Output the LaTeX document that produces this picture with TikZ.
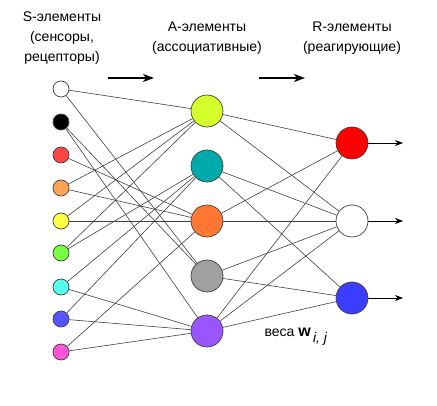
\documentclass[tikz,border=0pt]{standalone}
\usepackage{fontspec}
\setmainfont{Liberation Sans}
\usepackage{tikz}
\usetikzlibrary{arrows.meta}

\definecolor{sred}{HTML}{FF4444}
\definecolor{sorange}{HTML}{FFA255}
\definecolor{syellow}{HTML}{FFFF44}
\definecolor{sgreen}{HTML}{77FF44}
\definecolor{scyan}{HTML}{55FFEE}
\definecolor{sblue}{HTML}{5555FF}
\definecolor{smagenta}{HTML}{FF55DD}
\definecolor{alime}{HTML}{D4FF2A}
\definecolor{ateal}{HTML}{00AAAA}
\definecolor{aorange}{HTML}{FF7733}
\definecolor{agray}{HTML}{A0A0A0}
\definecolor{apurple}{HTML}{9955FF}
\definecolor{rred}{HTML}{FF0000}
\definecolor{rblue}{HTML}{3C3CFF}
\definecolor{edgegray}{HTML}{404040}

\begin{document}
\begin{tikzpicture}[x=1pt,y=-1pt,
	snode/.style={shape=circle,draw=edgegray,line width=0.7pt,inner sep=0pt,minimum size=16pt},
	bignode/.style={shape=circle,draw=edgegray,line width=0.7pt,inner sep=0pt,minimum size=32pt},
	link/.style={draw=edgegray,line width=0.6pt},
	outarrow/.style={draw=black,line width=0.7pt,-{Stealth[length=8pt,width=6pt,inset=2.5pt]}},
	steparrow/.style={draw=black,line width=1.6pt,-{Stealth[length=11pt,width=8pt,inset=3pt]}},
	head/.style={font=\fontsize{14}{20}\selectfont,align=center}]
	\useasboundingbox (0,0) rectangle (437,406);

	% headers
	\node[head] (stitle) at (62, 38)     {S-элементы\\(сенсоры,\\рецепторы)};
	\node[head] (atitle) at (207, 38)     {A-элементы\\(ассоциативные)};
	\node[head] (rtitle) at (352, 38)     {R-элементы\\(реагирующие)};
	\coordinate (f1) at (108, 78);
	\coordinate (t1) at (154, 78);
	\coordinate (f2) at (259, 78);
	\coordinate (t2) at (305, 78);
	\draw[steparrow] (f1) -- (t1);
	\draw[steparrow] (f2) -- (t2);

	% sensors
	\node[snode,fill=white] (s1) at (61, 89)     {};
	\node[snode,fill=black] (s2) at (61, 122)     {};
	\node[snode,fill=sred] (s3) at (61, 155)     {};
	\node[snode,fill=sorange] (s4) at (61, 188)     {};
	\node[snode,fill=syellow] (s5) at (61, 221)     {};
	\node[snode,fill=sgreen] (s6) at (61, 253)     {};
	\node[snode,fill=scyan] (s7) at (61, 287)     {};
	\node[snode,fill=sblue] (s8) at (61, 319)     {};
	\node[snode,fill=smagenta] (s9) at (61, 352)     {};

	% associative
	\node[bignode,fill=alime] (a1) at (207, 111)     {};
	\node[bignode,fill=ateal] (a2) at (207, 166)     {};
	\node[bignode,fill=aorange] (a3) at (207, 221)     {};
	\node[bignode,fill=agray] (a4) at (207, 276)     {};
	\node[bignode,fill=apurple] (a5) at (207, 331)     {};

	% reacting
	\node[bignode,fill=rred] (r1) at (352, 143)     {};
	\node[bignode,fill=white] (r2) at (352, 221)     {};
	\node[bignode,fill=rblue] (r3) at (352, 298)     {};
	\coordinate (o1) at (403, 143);
	\coordinate (o2) at (403, 221);
	\coordinate (o3) at (403, 298);

	\path[link] (s1) edge (a1);
	\path[link] (s1) edge (a4);
	\path[link] (s2) edge (a4);
	\path[link] (s2) edge (a5);
	\path[link] (s3) edge (a3);
	\path[link] (s4) edge (a1);
	\path[link] (s4) edge (a3);
	\path[link] (s5) edge (a1);
	\path[link] (s5) edge (a3);
	\path[link] (s6) edge (a1);
	\path[link] (s6) edge (a2);
	\path[link] (s7) edge (a2);
	\path[link] (s7) edge (a5);
	\path[link] (s8) edge (a2);
	\path[link] (s8) edge (a5);
	\path[link] (s9) edge (a3);
	\path[link] (s9) edge (a5);

	\path[link] (a1) edge (r1);
	\path[link] (a1) edge (r2);
	\path[link] (a2) edge (r2);
	\path[link] (a2) edge (r3);
	\path[link] (a3) edge (r1);
	\path[link] (a3) edge (r2);
	\path[link] (a4) edge (r2);
	\path[link] (a4) edge (r3);
	\path[link] (a5) edge (r1);
	\path[link] (a5) edge (r2);
	\path[link] (a5) edge (r3);

	\draw[outarrow] (r1) -- (o1);
	\draw[outarrow] (r2) -- (o2);
	\draw[outarrow] (r3) -- (o3);

	\node[anchor=base west,font=\fontsize{14}{16}\selectfont] (weights) at (261, 337)
		{веса {\fontsize{16}{16}\selectfont\bfseries w}\,\raisebox{-6pt}{\fontsize{14}{14}\selectfont\itshape i, j}};
\end{tikzpicture}
\end{document}
